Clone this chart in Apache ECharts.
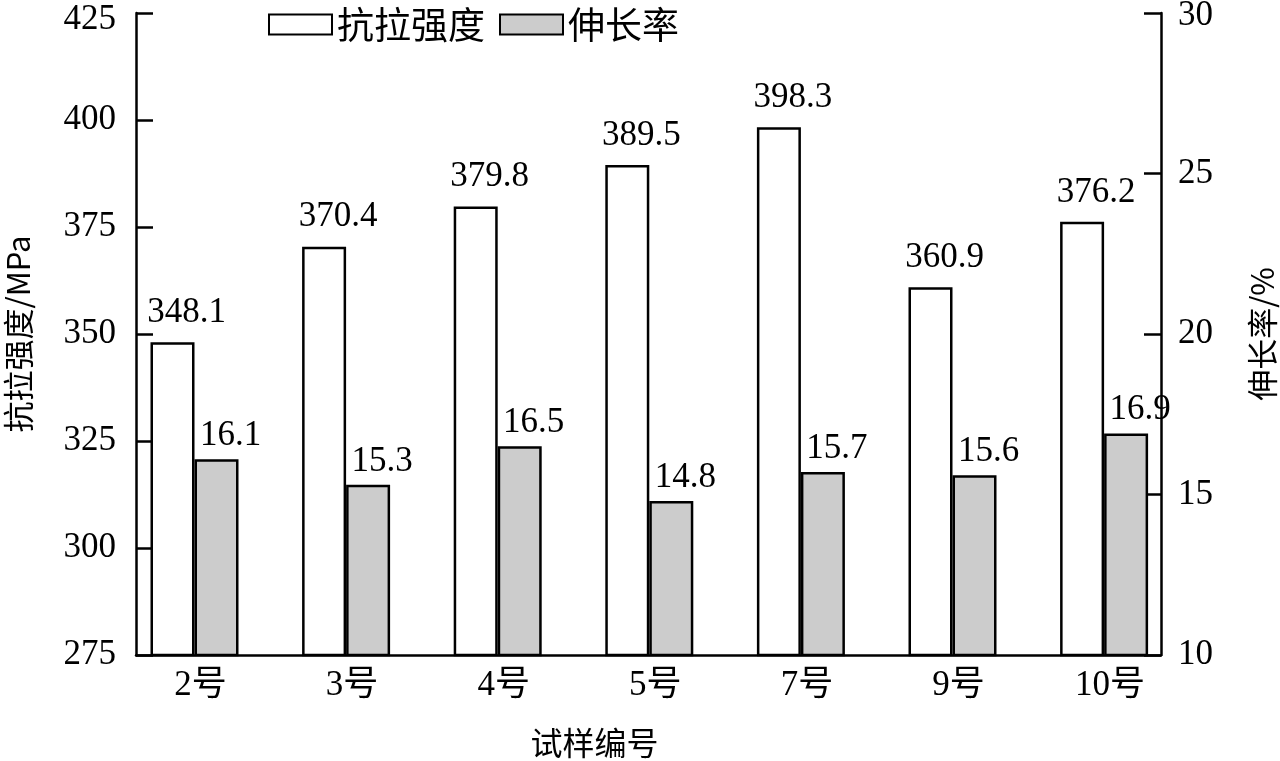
<!DOCTYPE html>
<html>
<head>
<meta charset="utf-8">
<script src="https://cdn.jsdelivr.net/npm/echarts@6/dist/echarts.min.js"></script>
<style>
  html, body { margin: 0; padding: 0; background: #fff; }
  #chart { width: 1280px; height: 761px; }
</style>
</head>
<body>
<div id="chart"></div>
<script>
  // 试样数据
  const categories = ['2号', '3号', '4号', '5号', '7号', '9号', '10号'];
  const strength = [348.1, 370.4, 379.8, 389.5, 398.3, 360.9, 376.2];
  const elongation = [16.1, 15.3, 16.5, 14.8, 15.7, 15.6, 16.9];
  const FONT = '"Liberation Serif", "Times New Roman", "Noto Sans CJK SC", serif';
  const CJK = '"Noto Sans CJK SC", sans-serif';

  const chart = echarts.init(document.getElementById('chart'));

  function barLabel(dist) {
    return {
      show: true,
      position: 'top',
      distance: dist,
      offset: [14, 0],
      color: '#000',
      fontFamily: FONT,
      fontSize: 35
    };
  }

  chart.setOption({
    animation: false,
    backgroundColor: '#fff',
    legend: {
      top: 1,
      left: 263,
      icon: 'rect',
      itemWidth: 63,
      itemHeight: 20,
      itemGap: 14,
      textStyle: { fontFamily: CJK, fontSize: 37, color: '#000' },
      data: ['抗拉强度', '伸长率']
    },
    grid: [
      // 坐标轴所在的区域
      { left: 136, right: 119, top: 13, bottom: 106, outerBoundsMode: 'none' },
      // 柱子所在的区域（两端留空更宽）
      { left: 118.7, right: 100.1, top: 13, bottom: 106, outerBoundsMode: 'none' }
    ],
    xAxis: [{
      type: 'category',
      gridIndex: 0,
      data: categories,
      axisLine: { lineStyle: { color: '#000', width: 2.5 } },
      axisTick: { show: false },
      axisLabel: { show: false },
      name: '试样编号',
      nameLocation: 'middle',
      nameGap: 72,
      nameTextStyle: { fontFamily: CJK, fontSize: 32, color: '#000', padding: [0, 108, 0, 0] }
    }, {
      type: 'category',
      gridIndex: 1,
      data: categories,
      axisLine: { show: false },
      axisTick: { show: false },
      axisLabel: { margin: 13, color: '#000', fontFamily: FONT, fontSize: 35, padding: [0, 0, 0, 12] }
    }],
    yAxis: [{
      type: 'value',
      gridIndex: 0,
      position: 'left',
      min: 275, max: 425, interval: 25,
      name: '抗拉强度/MPa',
      nameLocation: 'middle',
      nameRotate: 90,
      nameGap: 102,
      nameTextStyle: { fontFamily: CJK, fontSize: 31, color: '#000' },
      axisLine: { show: true, lineStyle: { color: '#000', width: 2.5 } },
      axisTick: { show: true, inside: true, length: 17, lineStyle: { color: '#000', width: 2.5 } },
      axisLabel: { margin: 20, color: '#000', fontFamily: FONT, fontSize: 35, lineHeight: 14, verticalAlignMaxLabel: 'top' },
      splitLine: { show: false }
    }, {
      type: 'value',
      gridIndex: 0,
      position: 'right',
      min: 10, max: 30, interval: 5,
      name: '伸长率/%',
      nameLocation: 'middle',
      nameRotate: 90,
      nameGap: 86,
      nameTextStyle: { fontFamily: CJK, fontSize: 31, color: '#000' },
      axisLine: { show: true, lineStyle: { color: '#000', width: 2.5 } },
      axisTick: { show: true, inside: true, length: 17, lineStyle: { color: '#000', width: 2.5 } },
      axisLabel: { margin: 17, color: '#000', fontFamily: FONT, fontSize: 35, lineHeight: 6, verticalAlignMaxLabel: 'top' },
      splitLine: { show: false }
    }, {
      type: 'value', gridIndex: 1, min: 275, max: 425, show: false
    }, {
      type: 'value', gridIndex: 1, min: 10, max: 30, show: false
    }],
    series: [{
      name: '抗拉强度',
      type: 'bar',
      xAxisIndex: 1,
      yAxisIndex: 2,
      barWidth: 44,
      barGap: '0%',
      data: strength,
      itemStyle: { color: '#fff', borderColor: '#000', borderWidth: 2.5 },
      label: barLabel(12)
    }, {
      name: '伸长率',
      type: 'bar',
      xAxisIndex: 1,
      yAxisIndex: 3,
      barWidth: 44,
      barGap: '0%',
      data: elongation,
      itemStyle: { color: '#cccccc', borderColor: '#000', borderWidth: 2.5 },
      label: barLabel(6)
    }]
  });
</script>
</body>
</html>
